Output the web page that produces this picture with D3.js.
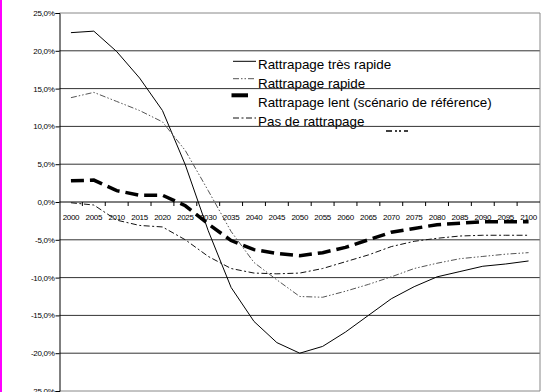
<!DOCTYPE html>
<html><head><meta charset="utf-8">
<script src="https://cdn.jsdelivr.net/npm/d3@7"></script>
<style>html,body{margin:0;padding:0;background:#fff;}svg{display:block;}</style>
</head><body>
<svg id="c" width="549" height="392"></svg>
<script>
const years = [2000,2005,2010,2015,2020,2025,2030,2035,2040,2045,2050,2055,2060,2065,2070,2075,2080,2085,2090,2095,2100];
const tresRapide = [22.4,22.6,19.9,16.4,12.1,4.9,-3.8,-11.3,-15.8,-18.6,-20.0,-19.1,-17.2,-15.0,-12.8,-11.2,-9.9,-9.2,-8.5,-8.2,-7.8];
const rapide = [13.8,14.5,13.3,12.1,10.6,6.8,1.5,-3.9,-8.0,-10.3,-12.5,-12.6,-11.8,-10.9,-9.9,-8.8,-8.1,-7.5,-7.2,-6.9,-6.7];
const lent = [2.8,2.9,1.5,0.9,0.9,-0.5,-2.9,-5.1,-6.3,-6.8,-7.1,-6.7,-6.0,-5.0,-4.0,-3.5,-3.0,-2.8,-2.6,-2.6,-2.6];
const pasDe = [-0.1,-0.4,-2.4,-3.1,-3.3,-5.0,-7.2,-8.8,-9.4,-9.5,-9.4,-8.8,-7.9,-7.0,-5.9,-5.2,-4.8,-4.5,-4.4,-4.4,-4.4];
const seriesNames = ["Rattrapage très rapide","Rattrapage rapide","Rattrapage lent (scénario de référence)","Pas de rattrapage"];
const yTicks = [25,20,15,10,5,0,-5,-10,-15,-20,-25];

const svg = d3.select("#c");
const L = 59.5, R = 540, T = 13, B = 391;
const x = d3.scalePoint().domain(years).range([L, R]).padding(0.5);
const xb = d3.scaleBand().domain(years).range([L, R]);
const y = d3.scaleLinear().domain([-25, 25]).range([B, T]);
const fmt = v => d3.format(".1f")(v).replace(".", ",").replace("−","-") + "%";

// magenta left strip
svg.append("rect").attr("x",0).attr("y",0).attr("width",2).attr("height",392).attr("fill","#ff00ff");

// gridlines
svg.append("g").selectAll("line").data(yTicks.filter(v=>v!==0)).join("line")
  .attr("x1",L).attr("x2",R).attr("y1",d=>y(d)).attr("y2",d=>y(d))
  .attr("stroke", d => d===25||d===-25 ? "#888" : "#333").attr("stroke-width",1);
// right border
svg.append("line").attr("x1",R).attr("x2",R).attr("y1",T).attr("y2",B).attr("stroke","#888");

// y axis
const yAxis = d3.axisLeft(y).tickValues(yTicks).tickSize(4).tickPadding(1).tickFormat(fmt);
const gy = svg.append("g").attr("transform",`translate(${L},0)`).call(yAxis);
gy.select(".domain").attr("stroke","#000");
gy.selectAll(".tick line").attr("stroke","#000");
gy.selectAll("text").attr("font-family","Liberation Sans, Arial, sans-serif").attr("font-size",8).attr("fill","#000").attr("letter-spacing","-0.3");

// x axis at 0
const xAxis = d3.axisBottom(xb).tickSize(0).tickPadding(0);
const gx = svg.append("g").attr("transform",`translate(0,${y(0)})`).call(xAxis);
gx.select(".domain").remove();
gx.selectAll("text").attr("font-family","Liberation Sans, Arial, sans-serif").attr("font-size",8).attr("fill","#000")
  .attr("letter-spacing","-0.3").attr("dy",null).attr("y",17.5);
svg.append("line").attr("x1",L).attr("x2",R).attr("y1",y(0)).attr("y2",y(0)).attr("stroke","#000");
svg.append("g").selectAll("line").data(years.slice(1)).join("line")
  .attr("x1",d=>xb(d)).attr("x2",d=>xb(d)).attr("y1",y(0)).attr("y2",y(0)+4).attr("stroke","#000");

// series
const styles = [
  {data: tresRapide, stroke:"#000", w:1, dash:null},
  {data: rapide, stroke:"#555", w:1, dash:"6,2,1.5,2,1.5,2"},
  {data: lent, stroke:"#000", w:3.5, dash:"13,6"},
  {data: pasDe, stroke:"#111", w:1, dash:"6,2.5,2,2.5"}
];
const line = d3.line().x((d,i)=>x(years[i])).y(d=>y(d));
styles.forEach(s => {
  svg.append("path").attr("d", line(s.data)).attr("fill","none")
    .attr("stroke", s.stroke).attr("stroke-width", s.w).attr("stroke-dasharray", s.dash);
});

// legend
const legSymY = [61.3, 78.7, 95.3, 118];
const legTxtY = [69, 87.5, 107, 125.5];
const legX = [[233,256],[233,256],[231.5,248],[233,256]];
seriesNames.forEach((n,i) => {
  const s = styles[i];
  svg.append("line").attr("x1",legX[i][0]).attr("x2",legX[i][1]).attr("y1",legSymY[i]).attr("y2",legSymY[i])
    .attr("stroke",s.stroke).attr("stroke-width", i===2?4:1).attr("stroke-dasharray", i===2?null:s.dash);
  svg.append("text").attr("x",258).attr("y",legTxtY[i]).text(n)
    .attr("font-family","Liberation Sans, Arial, sans-serif").attr("font-size",13.4).attr("fill","#000");
});
// small dashed fragment
svg.append("line").attr("x1",386).attr("x2",408).attr("y1",131).attr("y2",131)
  .attr("stroke","#000").attr("stroke-width",1.3).attr("stroke-dasharray","6,3,2,2,2,3");
</script>
</body></html>
